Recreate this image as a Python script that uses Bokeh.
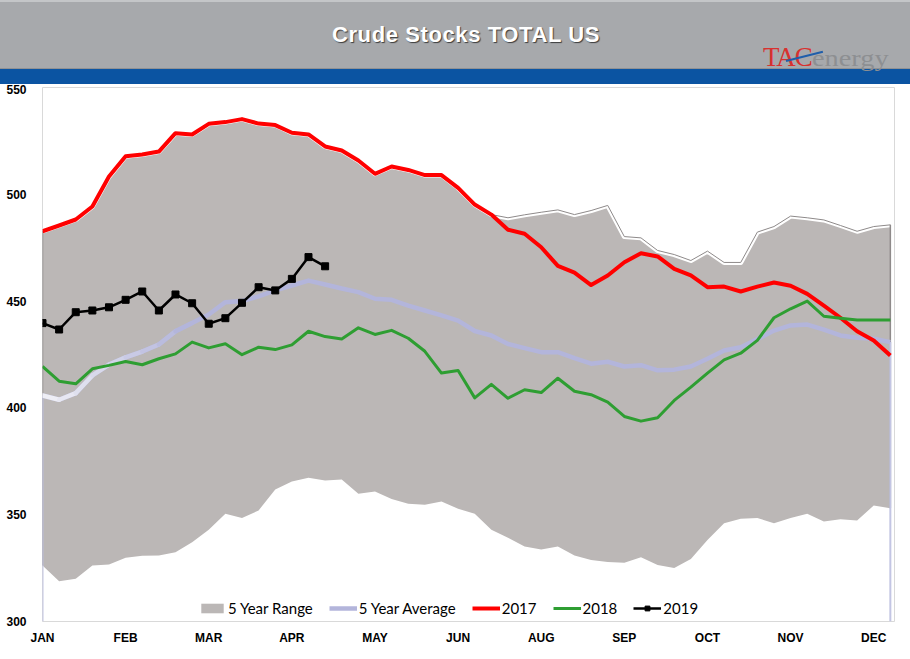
from bokeh.plotting import figure
from bokeh.layouts import column
from bokeh.models import Range1d, FixedTicker, Legend, LegendItem, Div
from bokeh.core.properties import value
from bokeh.embed import file_html
from bokeh.resources import INLINE

# ---------------- data ----------------
weeks = list(range(52))
month_labels = ["JAN", "FEB", "MAR", "APR", "MAY", "JUN", "AUG", "SEP", "OCT", "NOV", "DEC"]
label_every = 5
y_ticks = [300, 350, 400, 450, 500, 550]

stocks_2017 = [482.7, 485.4, 488.2, 494.3, 508.3, 517.8, 518.6, 520.0, 528.6, 528.0,
               533.0, 533.8, 535.2, 533.1, 532.4, 528.8, 528.0, 522.4, 520.5, 515.8,
               509.6, 513.0, 511.4, 509.0, 509.0, 503.0, 495.2, 490.5, 483.4, 481.5,
               475.2, 466.5, 463.3, 457.5, 462.0, 468.2, 472.4, 470.9, 465.1, 462.0,
               456.5, 456.8, 454.5, 456.8, 458.7, 457.2, 453.4, 447.9, 442.2, 435.9,
               431.6, 424.5]

stocks_2018 = [419.4, 412.5, 411.3, 418.3, 419.9, 421.7, 420.2, 423.0, 425.3, 430.8,
               428.1, 430.0, 424.9, 428.4, 427.3, 429.5, 435.9, 433.4, 432.3, 437.5,
               434.4, 436.3, 432.6, 426.5, 416.3, 417.5, 404.7, 411.0, 404.5, 408.5,
               407.2, 413.9, 407.8, 406.2, 402.7, 396.0, 393.8, 395.4, 403.5, 409.7,
               416.3, 422.5, 425.6, 431.6, 442.2, 446.4, 450.0, 442.9, 442.0, 441.2,
               441.2, 441.2]

stocks_2019 = [439.7, 436.7, 444.8, 445.6, 447.1, 450.6, 454.5, 445.6, 453.1, 449.0,
               439.4, 442.0, 449.2, 456.5, 455.0, 460.4, 470.6, 466.3]

avg_5yr = [405.8, 403.8, 406.9, 415.2, 420.3, 423.7, 426.4, 429.7, 435.9, 439.7,
           443.7, 449.5, 450.0, 452.2, 455.0, 457.3, 459.6, 457.8, 455.9, 454.2,
           451.1, 450.6, 447.9, 445.6, 443.3, 440.9, 436.0, 433.9, 429.9, 428.0,
           426.1, 426.1, 423.3, 420.7, 421.6, 419.4, 420.0, 417.6, 417.9, 419.4,
           423.0, 426.9, 428.4, 432.2, 436.2, 438.6, 439.0, 436.6, 433.9, 432.8,
           432.4, 430.8]

range_high = [482.7, 485.4, 488.2, 494.3, 508.3, 517.8, 518.6, 520.0, 528.6, 528.0,
              533.0, 533.8, 535.2, 533.1, 532.4, 528.8, 528.0, 522.4, 520.5, 515.8,
              509.6, 513.0, 511.4, 509.0, 509.0, 503.0, 495.2, 490.5, 489.0, 490.4,
              491.6, 492.7, 490.5, 492.4, 494.8, 480.2, 479.6, 473.7, 471.8, 469.0,
              473.4, 468.1, 468.1, 482.3, 484.9, 489.8, 489.0, 488.0, 485.4, 482.7,
              484.9, 485.7]

range_low = [326.2, 318.9, 320.0, 326.2, 326.7, 329.8, 330.8, 330.9, 332.4, 337.1,
             342.9, 350.4, 348.4, 352.0, 361.8, 365.5, 367.3, 366.0, 366.5, 359.8,
             360.9, 357.4, 355.1, 354.6, 356.2, 352.8, 350.4, 342.9, 339.2, 335.1,
             333.7, 335.1, 330.9, 328.8, 327.8, 327.5, 330.1, 326.5, 325.1, 329.3,
             338.2, 346.0, 348.1, 348.5, 346.0, 348.4, 350.4, 346.8, 347.9, 347.3,
             354.3, 353.0]

TITLE = "Crude Stocks TOTAL US"
LOGO_A = "TAC"
LOGO_B = "energy"

# ---------------- header (HTML banner) ----------------
header_html = f"""
<div style="position:relative;width:910px;height:84px;background:#a7a9ac;overflow:hidden;">
  <div style="position:absolute;left:0;top:0;width:910px;height:2px;background:#c4c6c8;"></div>
  <div style="position:absolute;left:0;top:68px;width:910px;height:1px;background:#8f9194;"></div>
  <div style="position:absolute;left:0;top:69px;width:910px;height:15px;background:#0b54a2;"></div>
  <div style="position:absolute;left:0;top:24px;width:932px;text-align:center;
       font-family:'Liberation Sans',Arial,sans-serif;font-weight:bold;font-size:22px;
       line-height:22px;letter-spacing:0.6px;color:#ffffff;
       text-shadow:1px 1px 1px rgba(0,0,0,0.65);white-space:nowrap;">{TITLE}</div>
  <div style="position:absolute;left:763px;top:44px;line-height:27px;white-space:nowrap;
       font-family:'Liberation Serif','Times New Roman',serif;">
    <span style="color:#d8312f;font-size:27px;letter-spacing:-1px;">{LOGO_A}</span><span
     style="display:inline-block;color:#8d8f92;font-size:24px;transform:scaleX(1.18);
     transform-origin:left bottom;">{LOGO_B}</span>
  </div>
  <div style="position:absolute;left:786px;top:60px;width:38px;height:2px;background:#1f5eab;
       transform:rotate(-14deg);transform-origin:left center;"></div>
</div>
"""
hdr = Div(text=header_html, width=910, height=84, margin=0)

# ---------------- main chart ----------------
p = figure(frame_width=852, frame_height=534, x_range=Range1d(0, 51.25),
           y_range=Range1d(300, 550), toolbar_location=None, output_backend="svg",
           min_border_left=42, min_border_right=16, min_border_top=3, min_border_bottom=38)
p.background_fill_color = "white"
p.border_fill_color = "white"
p.outline_line_color = "#d9d9d9"
p.xgrid.visible = False
p.ygrid.visible = False

for ax in (p.xaxis, p.yaxis):
    ax.axis_line_color = None
    ax.major_tick_line_color = None
    ax.minor_tick_line_color = None
    ax.major_tick_out = 0
    ax.major_tick_in = 0
    ax.minor_tick_out = 0
    ax.major_label_text_font = "Liberation Sans"
    ax.major_label_text_font_style = "bold"
    ax.major_label_text_font_size = "12px"
    ax.major_label_text_color = "black"

p.yaxis.ticker = FixedTicker(ticks=y_ticks)
p.yaxis.major_label_standoff = 16
tick_pos = [k * label_every for k in range(len(month_labels))]
p.xaxis.ticker = FixedTicker(ticks=tick_pos)
p.xaxis.major_label_overrides = {t: m for t, m in zip(tick_pos, month_labels)}
p.xaxis.major_label_standoff = 9

# 5 year range
r_range = p.varea(x=weeks, y1=range_low, y2=range_high, fill_color="#bbb7b6")
p.line(weeks, range_high, line_color="white", line_width=5, line_join="round")
p.line(weeks, range_high, line_color="#8e8a8a", line_width=1, line_join="round")
p.segment(x0=[weeks[0], weeks[-1]], y0=[range_low[0], range_low[-1]],
          x1=[weeks[0], weeks[-1]], y1=[range_high[0], range_high[-1]],
          line_color="#8e8a8a", line_width=1.5)

# 5 year average (with light gradient at the start)
p.segment(x0=[weeks[0], weeks[-1]], y0=[avg_5yr[0], avg_5yr[-1]],
          x1=[weeks[0], weeks[-1]], y1=[300, 300], line_color="#c3c5e3", line_width=2)
r_avg = p.line(weeks, avg_5yr, line_color="#b3b5db", line_width=4.5, line_join="round")


def mix(c1, c2, t):
    a = [int(c1[i:i + 2], 16) for i in (1, 3, 5)]
    b = [int(c2[i:i + 2], 16) for i in (1, 3, 5)]
    return "#" + "".join("%02x" % round(a[k] + (b[k] - a[k]) * t) for k in range(3))


n_grad = 9
grad_cols = [mix("#eeeef5", "#b3b5db", k / (n_grad - 1)) for k in range(n_grad)]
p.segment(x0=weeks[:n_grad], y0=avg_5yr[:n_grad], x1=weeks[1:n_grad + 1],
          y1=avg_5yr[1:n_grad + 1], line_color=grad_cols, line_width=4.5, line_cap="round")

r17 = p.line(weeks, stocks_2017, line_color="#ff0000", line_width=4, line_join="round")
r18 = p.line(weeks, stocks_2018, line_color="#2e9e32", line_width=3, line_join="round")
w19 = weeks[:len(stocks_2019)]
r19l = p.line(w19, stocks_2019, line_color="black", line_width=2.5, line_join="round")
r19m = p.scatter(w19, stocks_2019, marker="square", size=7, color="black")

legend = Legend(items=[
    LegendItem(label="5 Year Range", renderers=[r_range]),
    LegendItem(label="5 Year Average", renderers=[r_avg]),
    LegendItem(label="2017", renderers=[r17]),
    LegendItem(label="2018", renderers=[r18]),
    LegendItem(label="2019", renderers=[r19l, r19m]),
], orientation="horizontal", location=(156, 4))
legend.background_fill_alpha = 0
legend.border_line_color = None
legend.glyph_width = 28
legend.glyph_height = 12
legend.label_standoff = 2
legend.spacing = 16
legend.padding = 2
legend.margin = 0
legend.label_text_font = "Lato"
legend.label_text_font_size = "15px"
legend.label_text_color = "black"
p.add_layout(legend)

layout = column(hdr, p, spacing=0)
open("out.html", "w").write(file_html(layout, INLINE))
